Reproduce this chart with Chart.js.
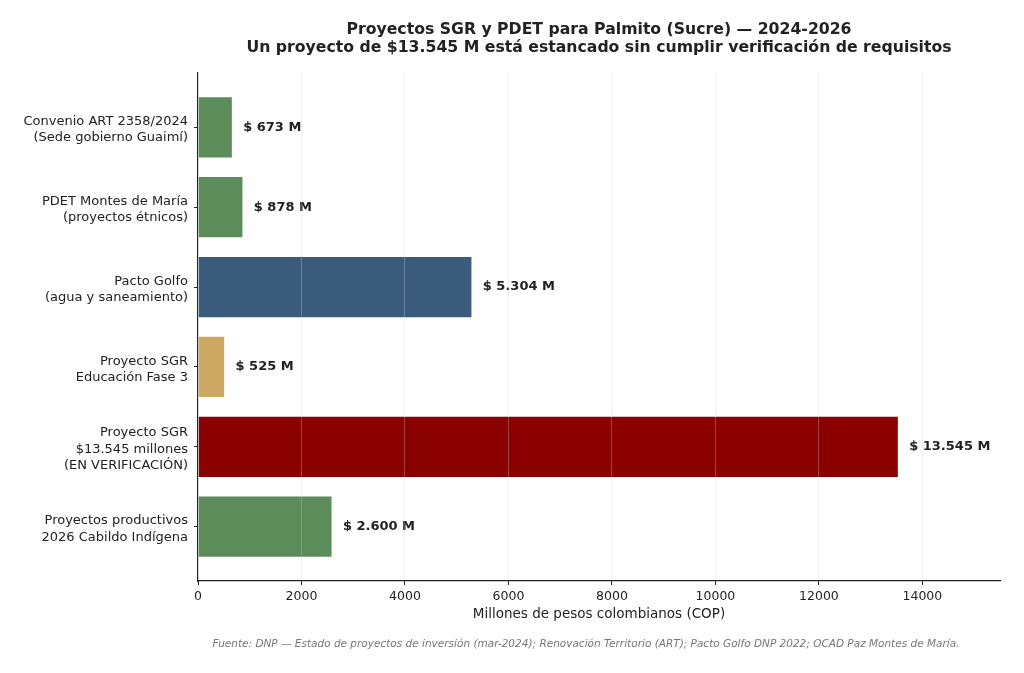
<!DOCTYPE html>
<html>
<head>
<meta charset="utf-8">
<script src="https://cdn.jsdelivr.net/npm/chart.js@4.4.1/dist/chart.umd.min.js"></script>
<style>
html,body{margin:0;padding:0;background:#fff;}
#wrap{width:1024px;height:673px;}
</style>
</head>
<body>
<div id="wrap"><canvas id="c" width="1024" height="673"></canvas></div>
<script>
const categories = [
  ["Convenio ART 2358/2024", "(Sede gobierno Guaimí)"],
  ["PDET Montes de María", "(proyectos étnicos)"],
  ["Pacto Golfo", "(agua y saneamiento)"],
  ["Proyecto SGR", "Educación Fase 3"],
  ["Proyecto SGR", "$13.545 millones", "(EN VERIFICACIÓN)"],
  ["Proyectos productivos", "2026 Cabildo Indígena"]
];
const values = [673, 878, 5304, 525, 13545, 2600];
const barColors = ["#5b8c5a", "#5b8c5a", "#3b5b7d", "#cca862", "#8b0000", "#5b8c5a"];
const xTicks = [0, 2000, 4000, 6000, 8000, 10000, 12000, 14000];
const titleLines = [
  "Proyectos SGR y PDET para Palmito (Sucre) — 2024-2026",
  "Un proyecto de $13.545 M está estancado sin cumplir verificación de requisitos"
];
const xTitle = "Millones de pesos colombianos (COP)";
const sourceNote = "Fuente: DNP — Estado de proyectos de inversión (mar-2024); Renovación Territorio (ART); Pacto Golfo DNP 2022; OCAD Paz Montes de María.";

const FONT = '"DejaVu Sans", "Noto Sans", sans-serif';
const fmt = v => "$ " + v.toString().replace(/\B(?=(\d{3})+(?!\d))/g, ".") + " M";

const overlay = {
  id: 'overlay',
  afterDatasetsDraw(chart) {
    const ctx = chart.ctx;
    const meta = chart.getDatasetMeta(0);
    ctx.save();
    ctx.font = 'bold 13px ' + FONT;
    ctx.fillStyle = '#222';
    ctx.textAlign = 'left';
    ctx.textBaseline = 'middle';
    meta.data.forEach((el, i) => {
      const xs = chart.scales.x;
      const px = xs.getPixelForValue(values[i] + 200);
      ctx.fillText(fmt(values[i]), px, el.y);
    });
    ctx.restore();
  },
  afterDraw(chart) {
    const ctx = chart.ctx;
    const ca = chart.chartArea;
    const cx = (ca.left + ca.right) / 2;
    ctx.save();
    ctx.fillStyle = '#222';
    ctx.textAlign = 'center';
    ctx.textBaseline = 'middle';
    ctx.font = 'bold 15.7px ' + FONT;
    ctx.fillText(titleLines[0], cx, 30);
    ctx.fillText(titleLines[1], cx, 48);
    ctx.font = 'italic 10.5px ' + FONT;
    ctx.fillStyle = '#777';
    ctx.fillText(sourceNote, 586, 644);
    ctx.restore();
  }
};

new Chart(document.getElementById('c'), {
  type: 'bar',
  data: {
    datasets: [{
      data: values.map((v, i) => ({ x: v, y: i })),
      backgroundColor: barColors,
      borderColor: 'rgba(255,255,255,0.6)',
      borderWidth: 1,
      barPercentage: 0.78,
      categoryPercentage: 1.0
    }]
  },
  options: {
    indexAxis: 'y',
    responsive: false,
    animation: false,
    devicePixelRatio: 1,
    layout: { padding: { top: 73, right: 24, left: 0, bottom: 0 } },
    plugins: { legend: { display: false }, tooltip: { enabled: false }, title: { display: false } },
    scales: {
      x: {
        type: 'linear',
        min: 0,
        max: 15500,
        afterBuildTicks: s => { s.ticks = xTicks.map(v => ({ value: v })); },
        afterFit: s => { s.height = 92; },
        grid: { color: 'rgba(215,215,215,0.3)', z: 1, tickColor: '#222', tickLength: 4, lineWidth: 1 },
        border: { display: true, color: '#222', width: 1.2, z: 2 },
        ticks: { color: '#222', font: { family: FONT, size: 12.5 }, padding: 4, maxRotation: 0, callback: v => String(v) },
        title: { display: true, text: xTitle, color: '#222', font: { family: FONT, size: 13.5 }, padding: { top: 0, bottom: 50 } }
      },
      y: {
        type: 'linear',
        min: -0.68,
        max: 5.68,
        reverse: true,
        offset: false,
        afterBuildTicks: s => { s.ticks = categories.map((c, i) => ({ value: i })); },
        afterFit: s => { s.width = 198; },
        grid: { drawOnChartArea: false, offset: false, tickColor: '#222', tickLength: 4 },
        border: { display: true, color: '#222', width: 1.2 },
        ticks: { color: '#222', font: { family: FONT, size: 13, lineHeight: 1.25 }, padding: 6, autoSkip: false,
          labelOffset: 2.5, callback: v => categories[v] }
      }
    }
  },
  plugins: [overlay]
});
</script>
</body>
</html>
